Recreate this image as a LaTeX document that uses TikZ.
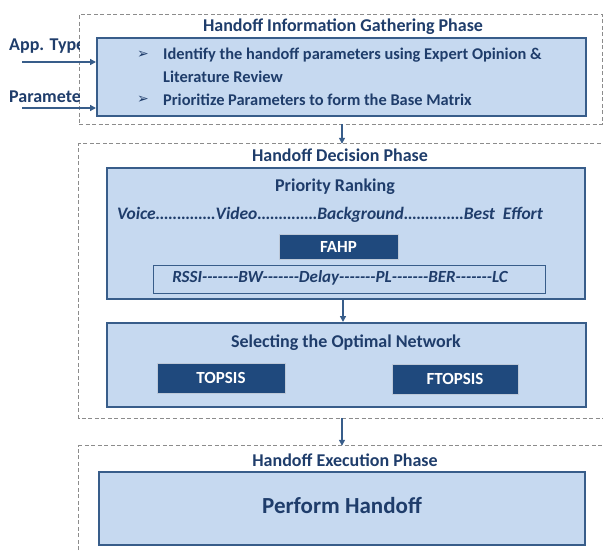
\documentclass[tikz,border=0pt]{standalone}
\usepackage{fontspec}
\setmainfont{Carlito}
\newfontfamily\dejavu{DejaVu Sans}
\usetikzlibrary{arrows.meta}
\definecolor{lightfill}{HTML}{C6D9F0}
\definecolor{boxline}{HTML}{385D8A}
\definecolor{navytext}{HTML}{1F3D6B}
\definecolor{darkfill}{HTML}{1F497D}
\definecolor{dashgrey}{HTML}{8C8C8C}
\newcommand{\densedots}{\xleaders\hbox to 4.2pt{\hss.\hss}\hfill}
\tikzset{
  phaseline/.style={draw=dashgrey, line width=0.9pt, dash pattern=on 4pt off 2.5pt},
  phasebox/.style={phaseline, rectangle, inner sep=0pt},
  phasearea/.style={rectangle, inner sep=0pt},
  stagebox/.style={draw=boxline, fill=lightfill, line width=2pt, rectangle, inner sep=0pt},
  methodbox/.style={draw=white!70!darkfill, fill=darkfill, line width=0.6pt, rectangle, inner sep=0pt, text=white, font=\bfseries\fontsize{17}{19}\selectfont},
  listbox/.style={draw=boxline, line width=1pt, rectangle, inner sep=0pt},
  titletext/.style={text=navytext, font=\bfseries\fontsize{18}{20}\selectfont, inner sep=0pt},
  bodytext/.style={text=navytext, font=\bfseries\fontsize{16.4}{19}\selectfont, inner sep=0pt, anchor=west},
  inputtext/.style={bodytext, font=\bfseries\fontsize{18}{20}\selectfont},
  bulletmark/.style={text=navytext, font=\dejavu\fontsize{14}{16}\selectfont, inner sep=0pt},
  arr/.style={draw=boxline, line width=1.4pt, -{Triangle[length=6pt,width=6pt]}}
}
\begin{document}
\begin{tikzpicture}[x=1pt,y=-1pt]
\useasboundingbox (0,0) rectangle (603,552);
\clip (0,0) rectangle (603,552);
% phase containers
\node[phasebox, minimum width=523pt, minimum height=110pt] (d1) at (340.5,69) {};
\node[phasearea, minimum width=580pt, minimum height=274pt] (d2) at (369,281) {};
\node[phasearea, minimum width=580pt, minimum height=130pt] (d3) at (369,511) {};
\draw[phaseline] (d2.north east) -- (d2.north west) -- (d2.south west) -- (d2.south east);
\draw[phaseline] (d3.south west) -- (d3.north west) -- (d3.north east);
% phase titles
\node[titletext] (t1) at (343,27) {Handoff Information Gathering Phase};
\node[titletext] (t2) at (340,155) {Handoff Decision Phase};
\node[titletext] (t3) at (345,460) {Handoff Execution Phase};
% stage 1
\node[stagebox, minimum width=489pt, minimum height=78pt] (b1) at (341.5,77) {};
\node[bulletmark] (k1) at (143,55) {➢};
\node[bodytext] (l1) at (163,55) {Identify the handoff parameters using Expert Opinion \&};
\node[bodytext] (l2) at (163,77) {Literature Review};
\node[bulletmark] (k2) at (143,100) {➢};
\node[bodytext] (l3) at (163,100) {Prioritize Parameters to form the Base Matrix};
% inputs
\begin{scope}
\clip (0,0) rectangle (79,552);
\node[inputtext] (in1) at (9,46) {App. Type};
\node[inputtext] (in2) at (9,97) {Parameters};
\end{scope}
\coordinate (s1) at (22,62);
\coordinate (s2) at (22,108);
\draw[arr] (s1) -- (s1 -| b1.west);
\draw[arr] (s2) -- (s2 -| b1.west);
% stage 2
\node[stagebox, minimum width=478pt, minimum height=131pt] (b2) at (346,233.5) {};
\node[titletext] (pr) at (335,187) {Priority Ranking};
\node[text=navytext, font=\bfseries\itshape\fontsize{17.5}{19}\selectfont, inner sep=0pt] (cls) at (330,215)
  {\makebox[426pt][s]{Voice\densedots Video\densedots Background\densedots Best\ \ Effort}};
\node[methodbox, minimum width=119pt, minimum height=25pt] (fahp) at (338.5,246.5) {FAHP};
\node[listbox, minimum width=392pt, minimum height=28pt] (lb) at (349,279) {};
\node[text=navytext, font=\bfseries\itshape\fontsize{17}{19}\selectfont, inner sep=0pt] (crit) at (340,278)
  {RSSI{-}{-}{-}{-}{-}{-}{-}BW{-}{-}{-}{-}{-}{-}{-}Delay{-}{-}{-}{-}{-}{-}{-}PL{-}{-}{-}{-}{-}{-}{-}BER{-}{-}{-}{-}{-}{-}{-}LC};
% stage 3
\node[stagebox, minimum width=479pt, minimum height=84pt] (b3) at (346.5,365) {};
\node[titletext] (sel) at (346,343) {Selecting the Optimal Network};
\node[methodbox, minimum width=128pt, minimum height=30pt] (tp) at (221,378) {TOPSIS};
\node[methodbox, minimum width=126pt, minimum height=30pt] (ftp) at (455,379) {FTOPSIS};
% stage 4
\node[stagebox, minimum width=486pt, minimum height=73pt] (b4) at (342,508.5) {};
\node[text=navytext, font=\bfseries\fontsize{23}{26}\selectfont, inner sep=0pt] (ph) at (342,505) {Perform Handoff};
% connectors
\draw[arr] ([xshift=1.5pt]d1.south) -- ([xshift=1.5pt]d1.south |- d2.north);
\draw[arr] ([xshift=-3pt]b2.south) -- ([xshift=-3pt]b2.south |- b3.north);
\draw[arr] ([xshift=-27pt]d2.south) -- ([xshift=-27pt]d2.south |- d3.north);
\end{tikzpicture}
\end{document}
